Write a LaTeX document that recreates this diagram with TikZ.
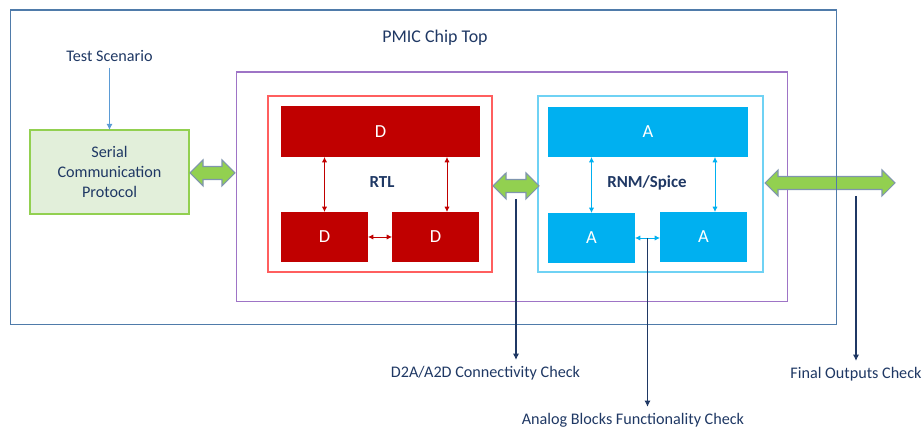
\documentclass[tikz,border=0pt]{standalone}
\usepackage{fontspec}
\setmainfont{Carlito}
\usetikzlibrary{arrows.meta}
\definecolor{navy}{HTML}{1F3864}
\definecolor{chipc}{HTML}{4F7BAA}
\definecolor{simc}{HTML}{9E74C6}
\definecolor{rtlc}{HTML}{FF5F5F}
\definecolor{rnmc}{HTML}{6FD2F4}
\definecolor{dred}{HTML}{C00000}
\definecolor{acyan}{HTML}{00B0F0}
\definecolor{lgreen}{HTML}{92D050}
\definecolor{pgreen}{HTML}{E2EFDA}
\definecolor{gedge}{HTML}{7F95AE}
\definecolor{tsline}{HTML}{5B9BD5}
\tikzstyle{blk}=[rectangle, inner sep=0pt, outer sep=0pt]
\tikzstyle{frame}=[blk, draw, line width=0.6pt]
\tikzstyle{dblk}=[blk, fill=dred, text=white, font=\fontsize{10.5}{12}\selectfont]
\tikzstyle{ablk}=[blk, fill=acyan, text=white, font=\fontsize{10.5}{12}\selectfont]
\tikzstyle{txt}=[text=navy, font=\fontsize{9.2}{11.3}\selectfont, align=center]
\tikzstyle{dlink}=[line width=0.5pt, <->, >={Latex[length=3pt,width=3pt]}, dred]
\tikzstyle{alink}=[line width=0.5pt, <->, >={Latex[length=3pt,width=3pt]}, acyan]
\tikzstyle{chk}=[line width=0.6pt, ->, >={Latex[length=3.5pt,width=3.5pt]}, navy]
\tikzstyle{grarrow}=[fill=lgreen, draw=gedge, line width=0.6pt, line join=miter]

\begin{document}
\begin{tikzpicture}[x=0.02cm, y=-0.02cm]
  \useasboundingbox (0,0) rectangle (924,431);

  % frames
  \node (sim) [frame, simc, minimum width=11.04cm, minimum height=4.6cm] at (512,187) {};
  \node (rtl) [frame, rtlc, minimum width=4.48cm, minimum height=3.52cm] at (380,184) {};
  \node (rnm) [frame, rnmc, minimum width=4.5cm, minimum height=3.52cm] at (650.5,184) {};
  \node (scp) [frame, lgreen, fill=pgreen, minimum width=3.18cm, minimum height=1.68cm,
               txt] at (109.5,172) {Serial\\Communication\\Protocol};

  % digital blocks
  \node (d1) [dblk, minimum width=3.98cm, minimum height=1.02cm] at (380.5,131.5) {D};
  \node (d2) [dblk, minimum width=1.74cm, minimum height=1cm] at (324.5,237) {D};
  \node (d3) [dblk, minimum width=1.74cm, minimum height=1cm] at (435.5,237) {D};
  \node (rtllbl) [txt, font=\fontsize{9.6}{11}\selectfont\bfseries] at (382,182) {RTL};

  % analog blocks
  \node (a1) [ablk, minimum width=4cm, minimum height=1cm] at (648,132) {A};
  \node (a2) [ablk, minimum width=1.74cm, minimum height=1cm] at (591.5,238) {A};
  \node (a3) [ablk, minimum width=1.74cm, minimum height=1cm] at (703.5,237) {A};
  \node (rnmlbl) [txt, font=\fontsize{9.6}{11}\selectfont\bfseries] at (647,183) {RNM/Spice};

  \draw [dlink] (d1.south -| d2.north) -- (d2.north);
  \draw [dlink] ([xshift=0.23cm]d1.south -| d3.north) -- ([xshift=0.23cm]d3.north);
  \draw [dlink] (d2.east) -- (d3.west);
  \draw [alink] (a1.south -| a2.north) -- (a2.north);
  \draw [alink] ([xshift=0.23cm]a1.south -| a3.north) -- ([xshift=0.23cm]a3.north);
  \draw [alink] (a2.east) -- (a3.west |- a2.east) coordinate[midway] (amid);

  % block arrows
  \draw [grarrow] (190,173) -- (203,160) -- (203,166.5) -- (222,166.5) -- (222,160) -- (235,173)
    -- (222,186) -- (222,179.5) -- (203,179.5) -- (203,186) -- cycle;
  \draw [grarrow] (493,186) -- (506,173) -- (506,179.5) -- (526,179.5) -- (526,173) -- (539,186)
    -- (526,199) -- (526,192.5) -- (506,192.5) -- (506,199) -- cycle;
  \draw [grarrow] (765,183) -- (778,170) -- (778,176.5) -- (882,176.5) -- (882,170) -- (895,183)
    -- (882,196) -- (882,189.5) -- (778,189.5) -- (778,196) -- cycle;
  \coordinate (dabot) at (516,199);
  \coordinate (fobot) at (856,196);

  \node (chip) [frame, chipc, minimum width=16.54cm, minimum height=6.3cm] at (423.5,167.5) {};
  \node (title) [txt, font=\fontsize{10.2}{12}\selectfont] at (435,38) {PMIC Chip Top};

  % inputs and checks
  \node (ts) [txt] at (109.5,56) {Test Scenario};
  \node (dchk) [txt] at (485.5,373) {D2A/A2D Connectivity Check};
  \node (achk) [txt] at (633,420) {Analog Blocks Functionality Check};
  \node (fchk) [txt] at (856,374) {Final Outputs Check};

  \draw [line width=0.6pt, ->, >={Latex[length=3.5pt,width=3.5pt]}, tsline] (ts.south) -- (scp.north);
  \draw [chk] (dabot) -- (dabot |- dchk.north);
  \draw [chk] (amid) -- (amid |- achk.north);
  \draw [chk] (fobot) -- (fobot |- fchk.north);
\end{tikzpicture}
\end{document}
